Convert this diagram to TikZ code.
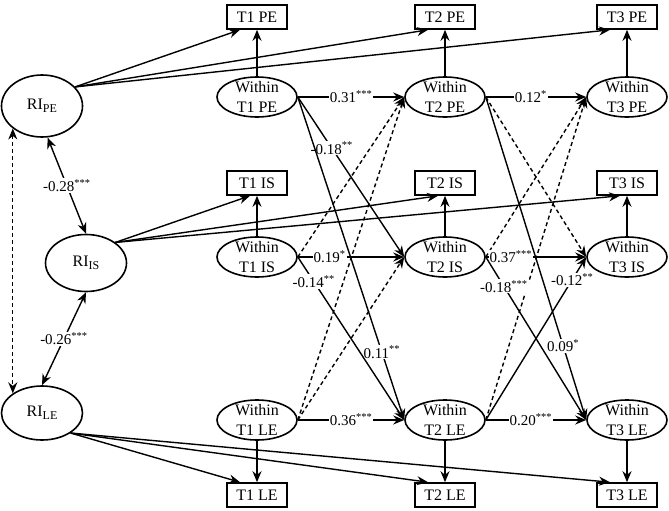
\documentclass[tikz,border=0pt]{standalone}
\usepackage{fontspec}
\setmainfont{Liberation Serif}
\usetikzlibrary{shapes.geometric, arrows.meta}

\begin{document}
\begin{tikzpicture}[
        x=1pt, y=-1pt,
        font=\fontsize{16}{20}\selectfont,
        obs/.style={rectangle, draw, line width=1.6pt, minimum width=60pt, minimum height=24pt, inner sep=0pt},
        within/.style={ellipse, draw, line width=1.6pt, minimum width=80pt, minimum height=40pt, inner xsep=0pt, inner ysep=-3pt, align=center},
        ri/.style={ellipse, draw, line width=1.6pt, minimum width=81pt, inner sep=0pt},
        reg/.style={line width=1.4pt, -{Stealth[length=11pt, width=9pt]}},
        nsreg/.style={reg, dash pattern=on 4pt off 3pt},
        cov/.style={line width=1.4pt, {Stealth[length=11pt, width=9pt]}-{Stealth[length=11pt, width=9pt]}},
        coef/.style={fill=white, inner sep=1pt, font=\fontsize{15}{17}\selectfont},
    ]
        \useasboundingbox (0,0) rectangle (669,511);

        % Observed scores
        \node[obs] (pe1) at (257,17) {T1 PE};
        \node[obs] (pe2) at (445,17) {T2 PE};
        \node[obs] (pe3) at (627,17) {T3 PE};
        \node[obs] (is1) at (257,183) {T1 IS};
        \node[obs] (is2) at (445,183) {T2 IS};
        \node[obs] (is3) at (627,183) {T3 IS};
        \node[obs] (le1) at (257,495) {T1 LE};
        \node[obs] (le2) at (445,495) {T2 LE};
        \node[obs] (le3) at (627,495) {T3 LE};

        % Within-person components
        \node[within] (wpe1) at (257,97) {Within\\T1 PE};
        \node[within] (wpe2) at (445,97) {Within\\T2 PE};
        \node[within] (wpe3) at (627,97) {Within\\T3 PE};
        \node[within] (wis1) at (257,257) {Within\\T1 IS};
        \node[within] (wis2) at (445,257) {Within\\T2 IS};
        \node[within] (wis3) at (627,257) {Within\\T3 IS};
        \node[within] (wle1) at (257,420) {Within\\T1 LE};
        \node[within] (wle2) at (445,420) {Within\\T2 LE};
        \node[within] (wle3) at (627,420) {Within\\T3 LE};

        % Random intercepts
        \node[ri, minimum height=62pt] (ripe) at (42,106) {RI\raisebox{-3pt}{\fontsize{12}{12}\selectfont PE}};
        \node[ri, minimum height=57pt] (riis) at (86,263) {RI\raisebox{-3pt}{\fontsize{12}{12}\selectfont IS}};
        \node[ri, minimum height=54pt] (rile) at (42,413) {RI\raisebox{-3pt}{\fontsize{12}{12}\selectfont LE}};

        % Loadings
        \draw[reg] (ripe.30) -- ([xshift=-17pt]pe1.south);
        \draw[reg] (ripe.30) -- ([xshift=-17pt]pe2.south);
        \draw[reg] (ripe.30) -- ([xshift=-17pt]pe3.south);
        \draw[reg] (riis.35) -- ([xshift=-7pt]is1.south);
        \draw[reg] (riis.35) -- ([xshift=-7pt]is2.south);
        \draw[reg] (riis.35) -- ([xshift=-7pt]is3.south);
        \draw[reg] (rile.-35) -- ([xshift=-17pt]le1.north);
        \draw[reg] (rile.-35) -- ([xshift=-17pt]le2.north);
        \draw[reg] (rile.-35) -- ([xshift=-17pt]le3.north);
        \draw[reg] (wpe1) -- (pe1);
        \draw[reg] (wpe2) -- (pe2);
        \draw[reg] (wpe3) -- (pe3);
        \draw[reg] (wis1) -- (is1);
        \draw[reg] (wis2) -- (is2);
        \draw[reg] (wis3) -- (is3);
        \draw[reg] (wle1) -- (le1);
        \draw[reg] (wle2) -- (le2);
        \draw[reg] (wle3) -- (le3);

        % Random intercept covariances
        \draw[cov] (ripe.-80) -- (riis.north) node[coef, midway] {-0.28\textsuperscript{***}};
        \draw[cov] (riis.south) -- (rile.north) node[coef, midway] {-0.26\textsuperscript{***}};
        \draw[cov, dash pattern=on 4pt off 3pt] (ripe.south west) -- (rile.north west);

        % Non-significant cross-lags
        \draw[nsreg] (wis1.east) -- (wpe2.west);
        \draw[nsreg] (wle1.east) -- (wpe2.west);
        \draw[nsreg] (wle1.east) -- (wis2.west);
        \draw[nsreg] (wpe2.east) -- (wis3.west);
        \draw[nsreg] (wis2.east) -- (wpe3.west);
        \draw[nsreg] (wle2.east) -- (wpe3.west);

        % Autoregressive paths
        \draw[reg] (wpe1.east) -- (wpe2.west) node[coef, midway] {0.31\textsuperscript{***}};
        \draw[reg] (wpe2.east) -- (wpe3.west) node[coef, pos=0.45] {0.12\textsuperscript{*}};
        \draw[reg] (wis1.east) -- (wis2.west) node[coef, pos=0.3] {0.19\textsuperscript{*}};
        \draw[reg] (wis2.east) -- (wis3.west) node[coef, pos=0.25] {0.37\textsuperscript{***}};
        \draw[reg] (wle1.east) -- (wle2.west) node[coef, midway] {0.36\textsuperscript{***}};
        \draw[reg] (wle2.east) -- (wle3.west) node[coef, pos=0.45] {0.20\textsuperscript{***}};

        % Significant cross-lags
        \draw[reg] (wpe1.east) -- (wis2.west) node[coef, pos=0.32] {-0.18\textsuperscript{**}};
        \draw[reg] (wpe1.east) -- (wle2.west) node[coef, pos=0.79] {0.11\textsuperscript{**}};
        \draw[reg] (wis1.east) -- (wle2.west) node[coef, pos=0.15] {-0.14\textsuperscript{**}};
        \draw[reg] (wpe2.east) -- (wle3.west) node[coef, pos=0.77] {0.09\textsuperscript{*}};
        \draw[reg] (wis2.east) -- (wle3.west) node[coef, pos=0.18] {-0.18\textsuperscript{***}};
        \draw[reg] (wle2.east) -- (wis3.west) node[coef, pos=0.86] {-0.12\textsuperscript{**}};
    \end{tikzpicture}
\end{document}
